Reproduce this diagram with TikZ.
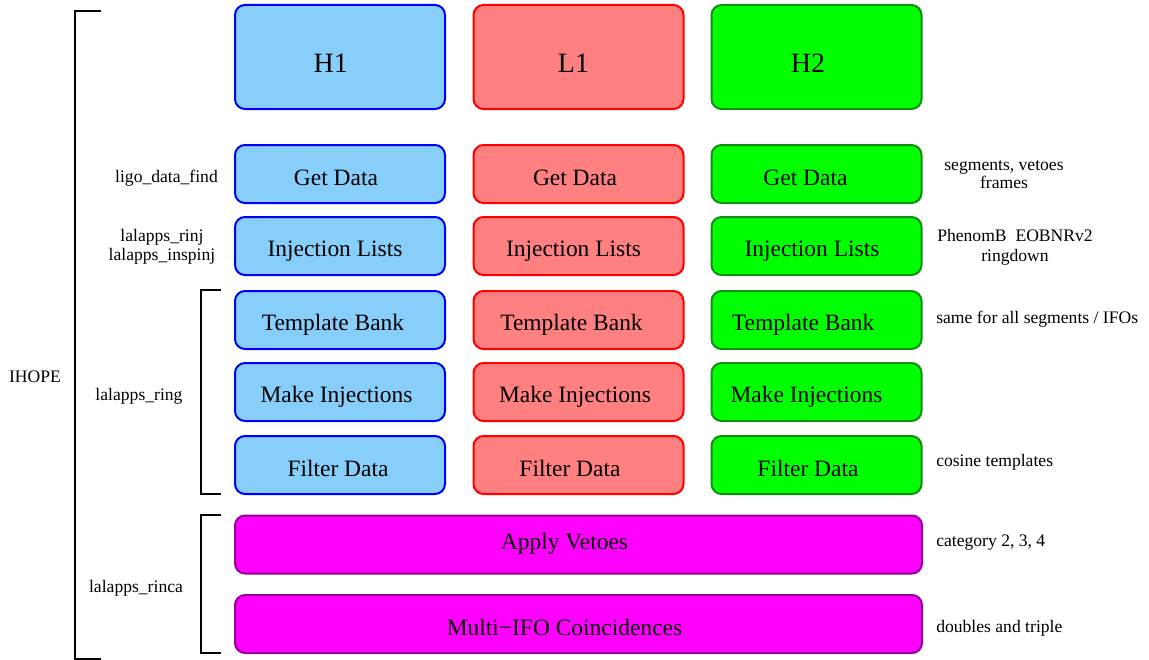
\documentclass[tikz,border=0pt]{standalone}
\usepackage{fontspec}
\setmainfont{Liberation Serif}
\definecolor{hfill}{RGB}{135,206,250}
\definecolor{hdraw}{RGB}{0,0,255}
\definecolor{lfill}{RGB}{255,128,128}
\definecolor{ldraw}{RGB}{255,0,0}
\definecolor{gfill}{RGB}{0,255,0}
\definecolor{gdraw}{RGB}{20,140,20}
\definecolor{mfill}{RGB}{255,0,255}
\definecolor{mdraw}{RGB}{150,0,150}
% text set off-centre inside its box: \offtext{dx}{raise}{text}
\newcommand\offtext[3]{\raisebox{#2}[\height][\depth]{\hspace*{#1}#3\hspace*{-#1}}}
\begin{document}
\begin{tikzpicture}[x=0.75pt,y=-0.75pt,
  box/.style={rectangle,rounded corners=7.5pt,line width=1.5pt,inner sep=0pt,
    minimum width=157.5pt,minimum height=43.5pt,font=\fontsize{17.6}{20}\selectfont},
  head/.style={box,minimum height=78pt,font=\fontsize{21}{24}\selectfont},
  colH1/.style={fill=hfill,draw=hdraw},
  colL1/.style={fill=lfill,draw=ldraw},
  colH2/.style={fill=gfill,draw=gdraw},
  wide/.style={box,fill=mfill,draw=mdraw,minimum width=515.25pt},
  note/.style={inner sep=0pt,font=\fontsize{13.2}{15}\selectfont},
  bracket/.style={line width=2pt,draw=black}]
\useasboundingbox (0,0) rectangle (1149,660);

% H1 column
\node[head,colH1] (topH1) at (340,57)  {\offtext{-7pt}{-4.5pt}{H1}};
\node[box,colH1]  (gdH1)  at (340,174) {\offtext{-3pt}{-3pt}{Get Data}};
\node[box,colH1]  (ilH1)  at (340,246) {\offtext{-3.75pt}{-3.75pt}{Injection Lists}};
\node[box,colH1]  (tbH1)  at (340,320) {\offtext{-5.25pt}{-3.75pt}{Template Bank}};
\node[box,colH1]  (miH1)  at (340,392) {\offtext{-2.6pt}{-3.75pt}{Make Injections}};
\node[box,colH1]  (fdH1)  at (340,465) {\offtext{-1.5pt}{-2.25pt}{Filter Data}};

% L1 column
\node[head,colL1] (topL1) at (578.5,57)  {\offtext{-3.75pt}{-4.5pt}{L1}};
\node[box,colL1]  (gdL1)  at (578.5,174) {\offtext{-2.6pt}{-3pt}{Get Data}};
\node[box,colL1]  (ilL1)  at (578.5,246) {\offtext{-3.75pt}{-3.75pt}{Injection Lists}};
\node[box,colL1]  (tbL1)  at (578.5,320) {\offtext{-5.25pt}{-3.75pt}{Template Bank}};
\node[box,colL1]  (miL1)  at (578.5,392) {\offtext{-2.6pt}{-3.75pt}{Make Injections}};
\node[box,colL1]  (fdL1)  at (578.5,465) {\offtext{-6.4pt}{-2.25pt}{Filter Data}};

% H2 column
\node[head,colH2] (topH2) at (816.5,57)  {\offtext{-6.4pt}{-4.5pt}{H2}};
\node[box,colH2]  (gdH2)  at (816.5,174) {\offtext{-8.25pt}{-3pt}{Get Data}};
\node[box,colH2]  (ilH2)  at (816.5,246) {\offtext{-3.4pt}{-3.75pt}{Injection Lists}};
\node[box,colH2]  (tbH2)  at (816.5,320) {\offtext{-10pt}{-3.75pt}{Template Bank}};
\node[box,colH2]  (miH2)  at (816.5,392) {\offtext{-7.5pt}{-3.75pt}{Make Injections}};
\node[box,colH2]  (fdH2)  at (816.5,465) {\offtext{-6.4pt}{-2.25pt}{Filter Data}};

% stages shared by all detectors
\node[wide] (veto)  at (578.5,544.5) {\offtext{-10.5pt}{0.75pt}{Apply Vetoes}};
\node[wide] (coinc) at (578.5,624)   {\offtext{-10.5pt}{-2.25pt}{Multi\char"2212 IFO Coincidences}};

% programs on the left
\node[note] (ihope) at (35,377) {IHOPE};
\node[note] (ldf) at (166.5,178) {ligo\_data\_find};
\node[note,align=center,font=\fontsize{13.2}{14.5}\selectfont] (rinj) at (162,247) {lalapps\_rinj\\lalapps\_inspinj};
\node[note] (ring) at (139,396) {lalapps\_ring};
\node[note] (rinca) at (136,588) {lalapps\_rinca};

% remarks on the right
\node[note,align=center,font=\fontsize{13.2}{13.5}\selectfont] (segs) at (1004,175) {segments, vetoes\\frames};
\node[note,align=center,font=\fontsize{13.2}{15}\selectfont] (inj) at (1015,247) {PhenomB\ \ EOBNRv2\\ringdown};
\node[note,anchor=west] (same) at (936,319) {same for all segments / IFOs};
\node[note,anchor=west] (cos) at (936,462) {cosine templates};
\node[note,anchor=west] (cat) at (936,543) {category 2, 3, 4};
\node[note,anchor=west] (dbl) at (936,628) {doubles and triple};

% grouping brackets
\draw[bracket] (101,11) -- (75,11) -- (75,659) -- (101,659);
\draw[bracket] (221,290) -- (201,290) -- (201,494) -- (221,494);
\draw[bracket] (221,515) -- (201,515) -- (201,653) -- (221,653);
\end{tikzpicture}
\end{document}
